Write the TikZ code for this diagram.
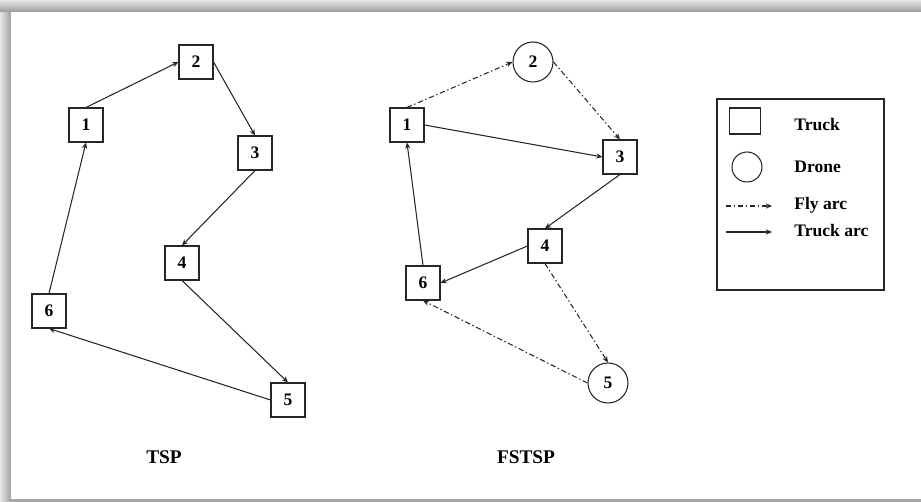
\documentclass[tikz,border=0pt]{standalone}
\usepackage{fontspec}
\setmainfont{Liberation Serif}
\usetikzlibrary{arrows.meta, positioning}

\tikzset{
  truck/.style = {draw=black!85, semithick, minimum width=0.68cm, minimum height=0.68cm,
    inner sep=0pt, font=\fontsize{10}{12}\selectfont\bfseries},
  drone/.style = {draw=black!85, circle, semithick, minimum size=0.8cm,
    inner sep=0pt, font=\fontsize{10}{12}\selectfont\bfseries},
  truckarc/.style = {-{Stealth[length=3.5pt, width=3pt]}, semithick, color=black!85},
  flyarc/.style = {truckarc, dash pattern=on 3pt off 1.5pt on 0.8pt off 1.5pt},
  title/.style = {font=\fontsize{11}{13}\selectfont\bfseries},
  legendtext/.style = {anchor=base west, inner sep=0pt, font=\fontsize{10}{12}\selectfont\bfseries}
}

\begin{document}
\begin{tikzpicture} [x=0.02cm, y=-0.02cm]

\useasboundingbox (0,0) rectangle (921,502);

% frame shadow
\foreach \i in {0,...,10}{
  \pgfmathtruncatemacro\g{10+2.5*\i}
  \fill [black!\g] (\i,11) rectangle (\i+1,502);
}
\foreach \i in {0,...,11}{
  \pgfmathtruncatemacro\g{10+2.5*\i}
  \fill [black!\g] (0,\i) rectangle (921,\i+1);
}
\fill [black!35] (11,499.5) rectangle (921,502);

% TSP
\node (t1) [truck] at (86,125) {1};
\node (t2) [truck] at (196,62) {2};
\node (t3) [truck] at (255,153) {3};
\node (t4) [truck] at (182,263) {4};
\node (t5) [truck] at (288,400) {5};
\node (t6) [truck] at (49,311) {6};

\path [truckarc]
    (t1.north) edge (t2.west)
    (t2.east) edge (t3.north)
    (t3.south) edge (t4.north)
    (t4.south) edge (t5.north)
    (t5.west) edge (t6.south)
    (t6.north) edge (t1.south);

\node (tsp) [title] at (164,457) {TSP};

% FSTSP
\node (f1) [truck] at (407,125) {1};
\node (f2) [drone] at (533,62) {2};
\node (f3) [truck] at (620,157) {3};
\node (f4) [truck] at (545,246) {4};
\node (f5) [drone] at (608,383) {5};
\node (f6) [truck] at (423,283) {6};

\path [flyarc]
    (f1.north) edge (f2.west)
    (f2.east) edge (f3.north)
    (f4.south) edge (f5.north)
    (f5.west) edge (f6.south);
\path [truckarc]
    (f1.east) edge (f3.west)
    (f3.south) edge (f4.north)
    (f4.west) edge (f6.east)
    (f6.north) edge (f1.south);

\node (fstsp) [title] at (526,457) {FSTSP};

% legend
\node (legend) [draw=black!85, semithick, minimum width=3.34cm, minimum height=3.82cm,
    inner sep=0pt] at (800.5,194.5) {};
\node (lgtruck) [draw=black!85, semithick, minimum width=0.62cm, minimum height=0.52cm,
    inner sep=0pt] at (745,121) {};
\node (lgdrone) [draw=black!85, circle, semithick, minimum size=0.6cm, inner sep=0pt]
    at (747,167) {};
\coordinate (flya) at (726,206);
\coordinate (flyb) at (772,206);
\coordinate (trka) at (726,232);
\coordinate (trkb) at (772,232);
\draw [flyarc] (flya) -- (flyb);
\draw [truckarc] (trka) -- (trkb);

\node (txtruck) [legendtext] at (794,131) {Truck};
\node (txdrone) [legendtext] at (794,173) {Drone};
\node (txfly) [legendtext] at (794,210) {Fly arc};
\node (txtrk) [legendtext] at (794,237) {Truck arc};

\end{tikzpicture}
\end{document}
